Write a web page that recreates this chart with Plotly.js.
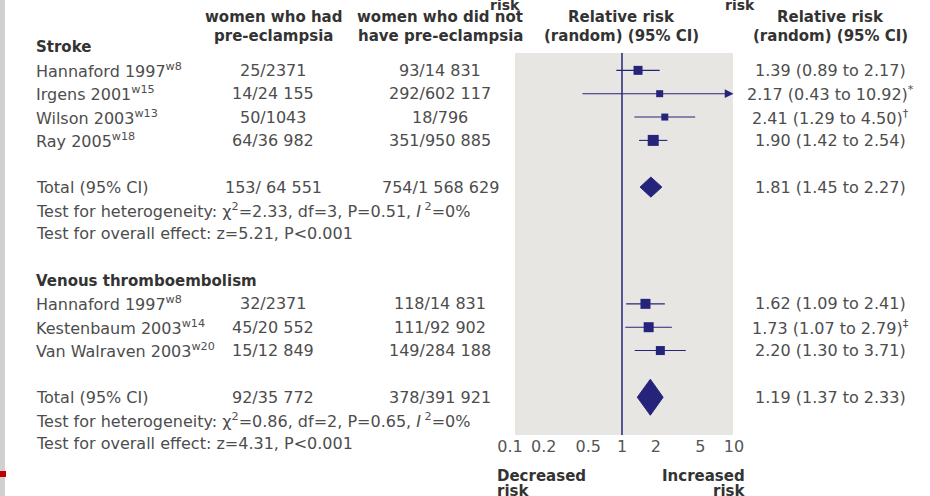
<!DOCTYPE html>
<html>
<head>
<meta charset="utf-8">
<script src="https://cdn.plot.ly/plotly-3.0.1.min.js"></script>
<style>html,body{margin:0;padding:0;background:#fff;}#chart{width:930px;height:496px;}</style>
</head>
<body>
<div id="chart"></div>
<script>
// ---------------- DATA ----------------
const strokeStudies = ['Hannaford 1997', 'Irgens 2001', 'Wilson 2003', 'Ray 2005'];
const strokeRefs = ['w8', 'w15', 'w13', 'w18'];
const strokePE = ['25/2371', '14/24 155', '50/1043', '64/36 982'];
const strokeNoPE = ['93/14 831', '292/602 117', '18/796', '351/950 885'];
const strokeRR = [1.39, 2.17, 2.41, 1.90];
const strokeLo = [0.89, 0.43, 1.29, 1.42];
const strokeHi = [2.17, 10.92, 4.50, 2.54];
const strokeNotes = ['', '*', '†', ''];
const strokeTotalCounts = ['153/ 64 551', '754/1 568 629'];
const strokeTotalRR = [1.81, 1.45, 2.27];          // estimate, lower, upper
const strokeTotalLabel = '1.81 (1.45 to 2.27)';
const strokeHet = 'Test for heterogeneity: χ<sup>2</sup>=2.33, df=3, P=0.51, <i>I</i><sup> 2</sup>=0%';
const strokeOverall = 'Test for overall effect: z=5.21, P&lt;0.001';

const vteStudies = ['Hannaford 1997', 'Kestenbaum 2003', 'Van Walraven 2003'];
const vteRefs = ['w8', 'w14', 'w20'];
const vtePE = ['32/2371', '45/20 552', '15/12 849'];
const vteNoPE = ['118/14 831', '111/92 902', '149/284 188'];
const vteRR = [1.62, 1.73, 2.20];
const vteLo = [1.09, 1.07, 1.30];
const vteHi = [2.41, 2.79, 3.71];
const vteNotes = ['', '‡', ''];
const vteTotalCounts = ['92/35 772', '378/391 921'];
const vteTotalRR = [1.79, 1.37, 2.33];
const vteTotalLabel = '1.19 (1.37 to 2.33)';
const vteHet = 'Test for heterogeneity: χ<sup>2</sup>=0.86, df=2, P=0.65, <i>I</i><sup> 2</sup>=0%';
const vteOverall = 'Test for overall effect: z=4.31, P&lt;0.001';

const tickValues = [0.1, 0.2, 0.5, 1, 2, 5, 10];
const tickLabels = ['0.1', '0.2', '0.5', '1', '2', '5', '10'];

// ---------------- STYLE ----------------
const NAVY = '#26247a';
const TXT = '#4d4d4d';
const HDR = '#333333';
const FONT = 'DejaVu Sans, Verdana, sans-serif';
const strokeBox = [9, 7, 7, 11];
const vteBox = [10, 10, 9];
const strokeDiamondHalf = 0.43;
const vteDiamondHalf = 0.77;

// plot area geometry (pixels)
const W = 930, H = 496;
const PL = 510, PR = 734, PT = 53, PB = 435;
const ROW0 = 47, STEP = 23.35;
const yLo = (PT - ROW0) / STEP, yHi = (PB - ROW0) / STEP;
const xMinLog = -1, xMaxLog = 1;
const pxX = px => (px - PL) / (PR - PL);              // paper x from pixel
const pxY = px => (PB - px) / (PB - PT);              // paper y from pixel
const rowY = r => pxY(ROW0 + r * STEP);               // paper y of a table row
const COL_LABEL = pxX(35), COL_PE = pxX(273), COL_NOPE = pxX(440), COL_RR = pxX(830);

// ---------------- BUILD ROWS ----------------
const annotations = [];
function txt(x, r, text, opts) {
  annotations.push(Object.assign({
    xref: 'paper', yref: 'paper', x: x, y: rowY(r), text: text, showarrow: false,
    xanchor: 'left', yanchor: 'middle', borderpad: 0,
    font: {family: FONT, size: 16, color: TXT}
  }, opts || {}));
}
const boldFont = {family: FONT, size: 15, color: HDR, weight: 'bold'};
function bold(x, r, text) { txt(x, r, text, {font: boldFont}); }
const fmt = v => v.toFixed(2);

const ciX = [], ciY = [];
const boxX = [], boxY = [], boxS = [];
const traces = [];

function addGroup(startRow, title, studies, refs, pe, nope, rr, lo, hi, notes, boxes,
                  totCounts, totRR, totLabel, het, overall, dHalf) {
  bold(COL_LABEL, startRow, title);
  studies.forEach((s, i) => {
    const r = startRow + 1 + i;
    txt(COL_LABEL, r, s + '<sup>' + refs[i] + '</sup>');
    txt(COL_PE, r, pe[i], {xanchor: 'center'});
    txt(COL_NOPE, r, nope[i], {xanchor: 'center'});
    txt(COL_RR, r, fmt(rr[i]) + ' (' + fmt(lo[i]) + ' to ' + fmt(hi[i]) + ')' +
        (notes[i] ? '<sup>' + notes[i] + '</sup>' : ''), {xanchor: 'center'});
    if (Math.log10(hi[i]) > xMaxLog) {
      // truncated interval: arrow to the axis edge
      annotations.push({
        xref: 'x', yref: 'y', axref: 'x', ayref: 'y',
        x: xMaxLog - 0.004, y: r, ax: Math.log10(lo[i]), ay: r,
        text: '', showarrow: true, arrowhead: 2, arrowsize: 1.6, arrowwidth: 1.1,
        arrowcolor: NAVY, standoff: 0, startstandoff: 0
      });
    } else {
      ciX.push(lo[i], hi[i], null); ciY.push(r, r, null);
    }
    boxX.push(rr[i]); boxY.push(r); boxS.push(boxes[i]);
  });
  const tr = startRow + studies.length + 2;
  txt(COL_LABEL, tr, 'Total (95% CI)');
  txt(COL_PE, tr, totCounts[0], {xanchor: 'center'});
  txt(COL_NOPE, tr, totCounts[1], {xanchor: 'center'});
  txt(COL_RR, tr, totLabel, {xanchor: 'center'});
  txt(COL_LABEL, tr + 1, het);
  txt(COL_LABEL, tr + 2, overall);
  traces.push({
    x: [totRR[1], totRR[0], totRR[2], totRR[0], totRR[1]],
    y: [tr, tr - dHalf, tr, tr + dHalf, tr],
    mode: 'lines', fill: 'toself', fillcolor: NAVY,
    line: {color: NAVY, width: 1}, hoverinfo: 'skip', showlegend: false
  });
  return tr + 2;
}

const lastStroke = addGroup(0, 'Stroke', strokeStudies, strokeRefs, strokePE, strokeNoPE,
  strokeRR, strokeLo, strokeHi, strokeNotes, strokeBox,
  strokeTotalCounts, strokeTotalRR, strokeTotalLabel, strokeHet, strokeOverall, strokeDiamondHalf);
addGroup(lastStroke + 2, 'Venous thromboembolism', vteStudies, vteRefs, vtePE, vteNoPE,
  vteRR, vteLo, vteHi, vteNotes, vteBox,
  vteTotalCounts, vteTotalRR, vteTotalLabel, vteHet, vteOverall, vteDiamondHalf);

// column headers
function hdr(xp, ypx, text, anchor, size) {
  annotations.push({xref: 'paper', yref: 'paper', x: xp, y: pxY(ypx), text: text,
    showarrow: false, xanchor: anchor || 'center', yanchor: 'middle', borderpad: 0,
    font: Object.assign({}, boldFont, size ? {size: size} : {})});
}
hdr(COL_PE, 17, 'women who had');
hdr(COL_PE, 36, 'pre-eclampsia');
hdr(COL_NOPE, 17, 'women who did not');
hdr(COL_NOPE, 36, 'have pre-eclampsia');
hdr(pxX(621), 17, 'Relative risk');
hdr(pxX(621), 36, '(random) (95% CI)');
hdr(COL_RR, 17, 'Relative risk');
hdr(COL_RR, 36, '(random) (95% CI)');
hdr(pxX(505), 5, 'risk', 'center', 14);
hdr(pxX(740), 5, 'risk', 'center', 14);
// bottom direction labels
hdr(pxX(496), 476, 'Decreased', 'left', 15);
hdr(pxX(496), 491, 'risk', 'left', 15);
hdr(pxX(746), 476, 'Increased', 'right', 15);
hdr(pxX(746), 491, 'risk', 'right', 15);

// traces: no-effect line, CIs, boxes
traces.unshift({
  x: [1, 1], y: [yLo, yHi], mode: 'lines',
  line: {color: NAVY, width: 1.5}, hoverinfo: 'skip', showlegend: false
});
traces.push({
  x: ciX, y: ciY, mode: 'lines', connectgaps: false,
  line: {color: NAVY, width: 1.1}, hoverinfo: 'skip', showlegend: false
});
traces.push({
  x: boxX, y: boxY, mode: 'markers',
  marker: {symbol: 'square', size: boxS, color: NAVY, opacity: 1, line: {width: 0}},
  hoverinfo: 'skip', showlegend: false
});

const layout = {
  width: W, height: H,
  margin: {l: PL, r: W - PR, t: PT, b: H - PB, pad: 0},
  paper_bgcolor: '#ffffff', plot_bgcolor: '#ffffff',
  showlegend: false,
  xaxis: {
    type: 'log', range: [xMinLog, xMaxLog], tickvals: tickValues, ticktext: tickLabels,
    showgrid: false, zeroline: false, showline: false, ticks: '',
    tickfont: {family: FONT, size: 16, color: '#555555'}, fixedrange: true
  },
  yaxis: {
    range: [yHi, yLo], showgrid: false, zeroline: false, showline: false,
    showticklabels: false, ticks: '', fixedrange: true
  },
  shapes: [
    {type: 'rect', xref: 'paper', yref: 'paper', x0: pxX(515), x1: pxX(733), y0: 0, y1: 1,
     fillcolor: '#e8e6e3', line: {width: 0}, layer: 'below'},
    {type: 'rect', xref: 'paper', yref: 'paper', x0: pxX(0), x1: pxX(5), y0: pxY(496), y1: pxY(0),
     fillcolor: '#d0d0d0', line: {width: 0}, layer: 'below'},
    {type: 'rect', xref: 'paper', yref: 'paper', x0: pxX(0), x1: pxX(6), y0: pxY(477), y1: pxY(471),
     fillcolor: '#c00000', line: {width: 0}, layer: 'above'}
  ],
  annotations: annotations
};

Plotly.newPlot('chart', traces, layout, {staticPlot: true, displayModeBar: false});
</script>
</body>
</html>
